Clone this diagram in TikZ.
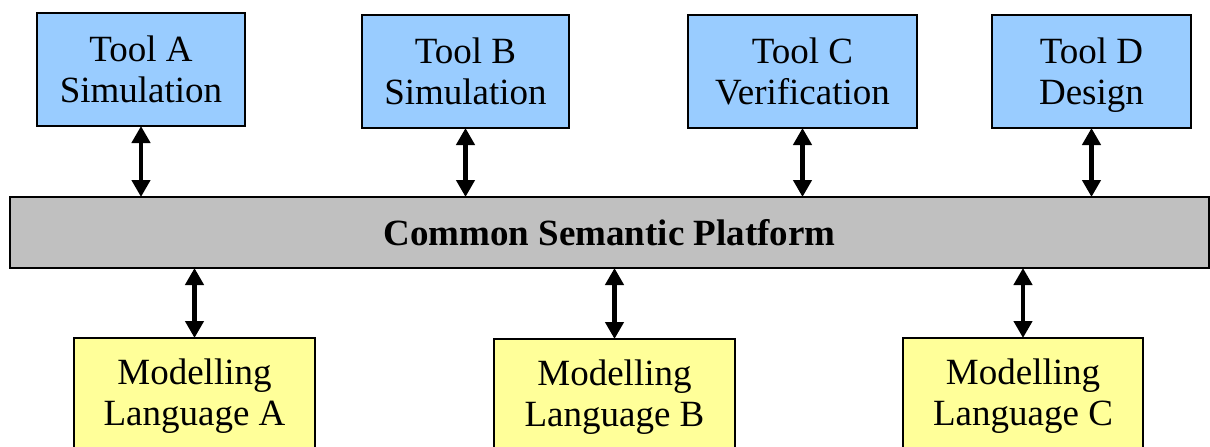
\documentclass[tikz,border=0pt]{standalone}
\usepackage{fontspec}
\setmainfont{Liberation Serif}
\usetikzlibrary{arrows.meta}
\definecolor{toolblue}{HTML}{99CCFF}
\definecolor{platgray}{HTML}{C0C0C0}
\definecolor{langyellow}{HTML}{FFFF99}
\tikzset{
  box/.style={draw=black, line width=1.5pt, inner sep=0pt, outer sep=0pt, align=center,
    font=\fontsize{37}{41}\selectfont},
  toolbox/.style={box, fill=toolblue, minimum height=113pt, text depth=0pt},
  langbox/.style={box, fill=langyellow, minimum height=116pt},
  platbox/.style={box, fill=platgray, minimum height=71pt, font=\fontsize{37}{41}\selectfont\bfseries},
  biarrow/.style={line width=4.5pt, {Triangle[width=18pt,length=17pt]}-{Triangle[width=18pt,length=17pt]}}
}
\begin{document}
\begin{tikzpicture}[x=1pt,y=-1pt]
\clip (0,0) rectangle (1210,447);
\fill[white] (0,0) rectangle (1210,447);
\node[toolbox, minimum width=208pt] (tA) at (141,69.5) {Tool A\\Simulation};
\node[toolbox, minimum width=207pt] (tB) at (465.5,71.5) {Tool B\\Simulation};
\node[toolbox, minimum width=229pt] (tC) at (802.5,71.5) {Tool C\\Verification};
\node[toolbox, minimum width=199pt] (tD) at (1091.5,71.5) {Tool D\\Design};
\node[platbox, minimum width=1199pt] (plat) at (609.5,232.5) {Common Semantic Platform};
\node[langbox, minimum width=241pt] (lA) at (194.5,396) {Modelling\\Language A};
\node[langbox, minimum width=241pt] (lB) at (614.5,397) {Modelling\\Language B};
\node[langbox, minimum width=240pt] (lC) at (1023,396) {Modelling\\Language C};
\foreach \t in {tA,tB,tC,tD}{
  \draw[biarrow] (\t.south) -- (\t.south |- plat.north);
}
\foreach \l in {lA,lB,lC}{
  \draw[biarrow] (\l.north |- plat.south) -- (\l.north);
}
\end{tikzpicture}
\end{document}
